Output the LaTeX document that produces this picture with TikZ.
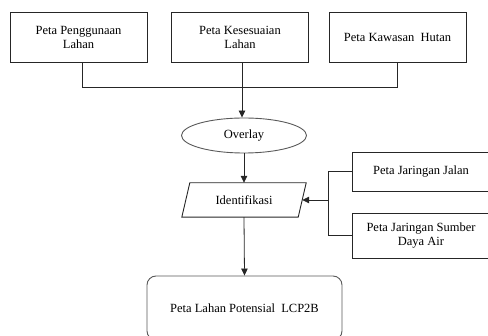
\documentclass[tikz,border=0pt]{standalone}
\usepackage{fontspec}
\setmainfont{Liberation Serif}
\usetikzlibrary{arrows.meta,shapes.geometric}
\begin{document}
\begin{tikzpicture}[x=1pt,y=-1pt,
  every node/.style={font=\fontsize{12.5}{14}\selectfont, align=center, inner sep=0pt},
  mapbox/.style={draw=black!85, line width=0.9pt, minimum width=137pt, minimum height=50pt},
  sidebox/.style={draw=black!85, line width=0.9pt, minimum width=138pt},
  conn/.style={draw=black!85, line width=0.8pt},
  arr/.style={conn, -{Triangle[length=7pt,width=6.5pt]}}]
\useasboundingbox (0,0) rectangle (488,336);
\node[mapbox] (b1) at (78.5,37) {Peta Penggunaan\\Lahan};
\node[mapbox] (b2) at (240,37) {Peta Kesesuaian\\Lahan};
\node[mapbox] (b3) at (397.5,37) {Peta Kawasan~ Hutan};
\node[draw=black!65, line width=0.9pt, ellipse, minimum width=125pt, minimum height=35pt] (ov) at (244,135.5) {Overlay};
\node[minimum width=124pt, minimum height=34pt] (id) at (244,200) {Identifikasi};
\draw[draw=black!85, line width=0.9pt] (id.south west) -- ([xshift=-8]id.south east) -- (id.north east) -- ([xshift=8]id.north west) -- cycle;
\node[sidebox, minimum height=39pt] (jl) at (421,171.5) {Peta Jaringan Jalan};
\node[sidebox, minimum height=45pt] (sa) at (421,235.5) {Peta Jaringan Sumber\\Daya Air};
\node[draw=black!65, line width=0.9pt, rounded corners=9pt, minimum width=195pt, minimum height=64pt] (lc) at (244.5,308) {Peta Lahan Potensial~ LCP2B};
\coordinate (j) at (328,200);
\coordinate (m) at (82,87);
\draw[conn] ([xshift=3.5]b1.south) -- (m) -- (m -| b3) -- (b3.south);
\draw[arr] (b2.south -| 242,0) -- (ov.north -| 242,0);
\draw[arr] (ov.south) -- (id.north -| ov.south);
\draw[conn] (jl.west) -- (jl.west -| j) -- (sa.west -| j) -- (sa.west);
\draw[arr] (j) -- ([xshift=-4]id.east);
\draw[arr] (id.south) -- (lc.north);
\end{tikzpicture}
\end{document}
